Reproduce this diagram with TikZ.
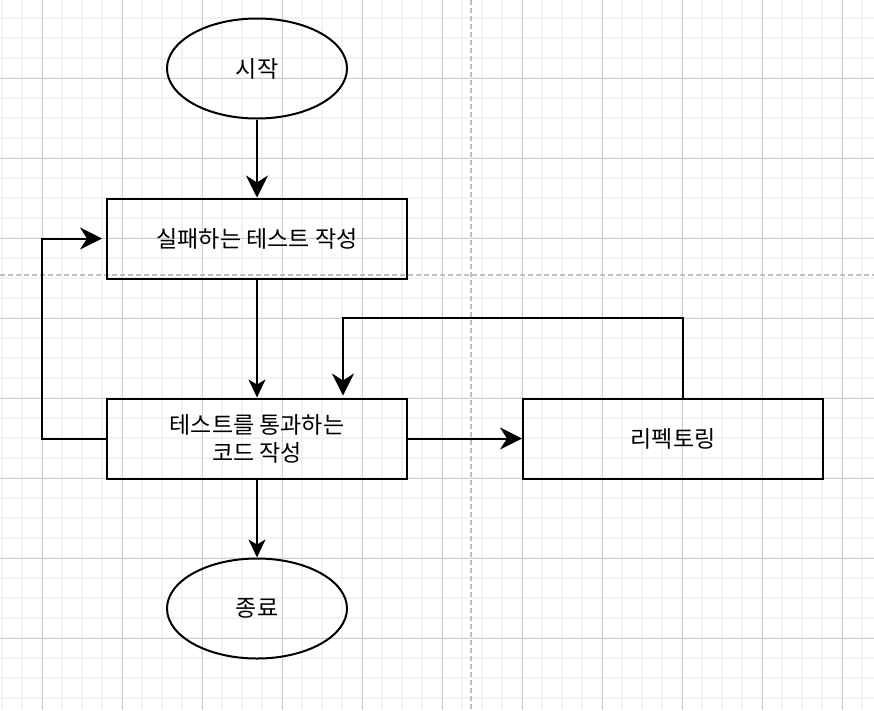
\documentclass[tikz,border=0pt]{standalone}
\usepackage{fontspec}
\setmainfont{Noto Sans CJK KR}
\usetikzlibrary{arrows.meta,shapes.geometric}
\definecolor{gridminor}{RGB}{242,242,242}
\definecolor{gridmajor}{RGB}{208,208,208}
\definecolor{pagebreak}{RGB}{192,192,192}
\tikzset{
  boxnode/.style={draw, line width=2pt, rectangle, minimum width=300pt, minimum height=80pt, inner sep=0pt, font=\fontsize{23pt}{28pt}\selectfont, align=center},
  ovalnode/.style={draw, line width=2pt, ellipse, minimum width=180pt, minimum height=100pt, inner sep=0pt, font=\fontsize{23pt}{28pt}\selectfont},
  bigarrow/.style={line width=2pt, -{Stealth[length=22pt, width=22pt, inset=7pt]}},
  smallarrow/.style={line width=2pt, -{Stealth[length=18pt, width=17pt, inset=5pt]}},
}
\begin{document}
\begin{tikzpicture}[x=1pt,y=-1pt]
\useasboundingbox (0,0) rectangle (874,710);
\fill[white] (0,0) rectangle (874,710);
% minor grid
\foreach \x in {2,22,...,862} \draw[gridminor, line width=2pt] (\x,0) -- (\x,710);
\foreach \y in {18,38,...,698} \draw[gridminor, line width=2pt] (0,\y) -- (874,\y);
% major grid
\foreach \x in {42,122,...,842} \draw[gridmajor, line width=1pt] (\x,0) -- (\x,710);
\foreach \y in {78,158,...,638} \draw[gridmajor, line width=1pt] (0,\y) -- (874,\y);
% page breaks
\draw[pagebreak, line width=1.5pt, dash pattern=on 5pt off 3pt] (471,0) -- (471,710);
\draw[pagebreak, line width=1.5pt, dash pattern=on 5pt off 3pt] (0,275) -- (874,275);
% nodes
\node[ovalnode] (start) at (257,68.5) {시작};
\node[boxnode] (b1) at (257,238.5) {실패하는 테스트 작성};
\node[boxnode] (b2) at (257,438.5) {테스트를 통과하는\\코드 작성};
\node[boxnode] (ref) at (673,438.5) {리펙토링};
\node[ovalnode] (end) at (257,608.5) {종료};
% connectors
\draw[bigarrow] (start) -- (b1);
\draw[smallarrow] (b1) -- (b2);
\draw[smallarrow] (b2) -- (end);
\draw[bigarrow] (b2) -- (ref);
\draw[bigarrow] (b2.west) -- ++(-64,0) |- ([xshift=-4pt]b1.west);
\draw[bigarrow] ([xshift=10pt]ref.north) -- ++(0,-80) -| ([xshift=86pt,yshift=2pt]b2.north);
\end{tikzpicture}
\end{document}
